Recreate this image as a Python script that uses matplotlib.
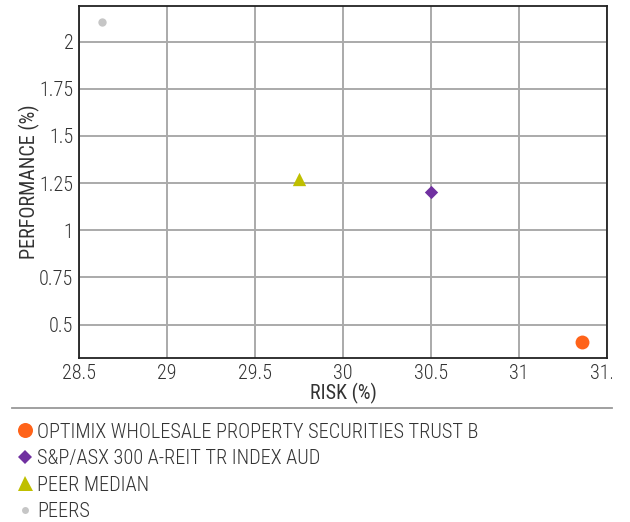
import matplotlib
matplotlib.use("Agg")
import matplotlib.pyplot as plt
from matplotlib.lines import Line2D
from matplotlib.transforms import Bbox
from matplotlib import font_manager

names = {f.name for f in font_manager.fontManager.ttflist}
prefs = ['Roboto Condensed', 'Abel', 'Liberation Sans Narrow', 'Roboto']
main = next((p for p in prefs if p in names), 'DejaVu Sans')
plt.rcParams['font.family'] = [main, 'DejaVu Sans']
plt.rcParams['font.weight'] = 300

series = ["OPTIMIX WHOLESALE PROPERTY SECURITIES TRUST B",
          "S&P/ASX 300 A-REIT TR INDEX AUD",
          "PEER MEDIAN",
          "PEERS"]
risk = [31.36, 30.50, 29.75, 28.63]
perf = [0.408, 1.203, 1.27, 2.104]
colors = ["#FF6319", "#7030A0", "#BFBF00", "#C6C6C6"]
markers = ["o", "D", "^", "o"]
sizes = [100, 46, 92, 36]
leg_ms = [10.8, 7.6, 10.8, 5.0]

xticks = [28.5, 29, 29.5, 30, 30.5, 31, 31.5]
xticklabels = ["28.5", "29", "29.5", "30", "30.5", "31", "31.5"]
yticks = [0.5, 0.75, 1, 1.25, 1.5, 1.75, 2]
yticklabels = ["0.5", "0.75", "1", "1.25", "1.5", "1.75", "2"]

W, H = 630, 522
fig = plt.figure(figsize=(W/100, H/100), dpi=100)
ax = fig.add_axes([79/W, 1-358/H, (607-79)/W, (358-6)/H])

for i in range(len(series)):
    ax.scatter([risk[i]], [perf[i]], s=sizes[i], c=colors[i], marker=markers[i],
               linewidths=0, zorder=3, label=series[i])

ax.set_xlim(28.5, 31.5)
ax.set_ylim(0.323, 2.189)
ax.set_xticks(xticks)
ax.set_xticklabels(xticklabels)
ax.set_yticks(yticks)
ax.set_yticklabels(yticklabels)
ax.grid(True, color="#AAAAAA", linewidth=1.4)
ax.set_axisbelow(True)
for s in ax.spines.values():
    s.set_color("#222222")
    s.set_linewidth(1.3)
fs_axis = 14.5
ax.tick_params(axis='x', length=0, labelsize=fs_axis, colors="#333333", pad=4)
ax.tick_params(axis='y', length=0, labelsize=fs_axis, colors="#333333", pad=4)
ax.set_xlabel("RISK (%)", fontsize=fs_axis, color="#333333")
ax.set_ylabel("PERFORMANCE (%)", fontsize=fs_axis, color="#333333")
ax.xaxis.set_label_coords(0.5, -(383-358)/352)
ax.yaxis.set_label_coords(-(79-40)/528, 0.5)

# clip last x tick label at the figure container edge
fig.canvas.draw()
clip = Bbox.from_extents(0, 0, 612, H)
for t in ax.get_xticklabels():
    t.set_clip_box(clip)
    t.set_clip_on(True)

fig.add_artist(Line2D([12/W, 612/W], [1-408/H, 1-408/H],
                      color="#999999", linewidth=1.3, transform=fig.transFigure))

handles = [Line2D([], [], linestyle="none", marker=markers[i], color=colors[i],
                  markersize=leg_ms[i], markeredgewidth=0) for i in range(len(series))]
leg = fig.legend(handles, series, loc="upper left", bbox_to_anchor=(17/W, 1-422.5/H),
                 frameon=False, fontsize=14.6, handlelength=0.8, handletextpad=0.2,
                 labelspacing=0.37, borderaxespad=0, borderpad=0)
for t in leg.get_texts():
    t.set_color("#333333")

fig.savefig("out.png", dpi=100)
